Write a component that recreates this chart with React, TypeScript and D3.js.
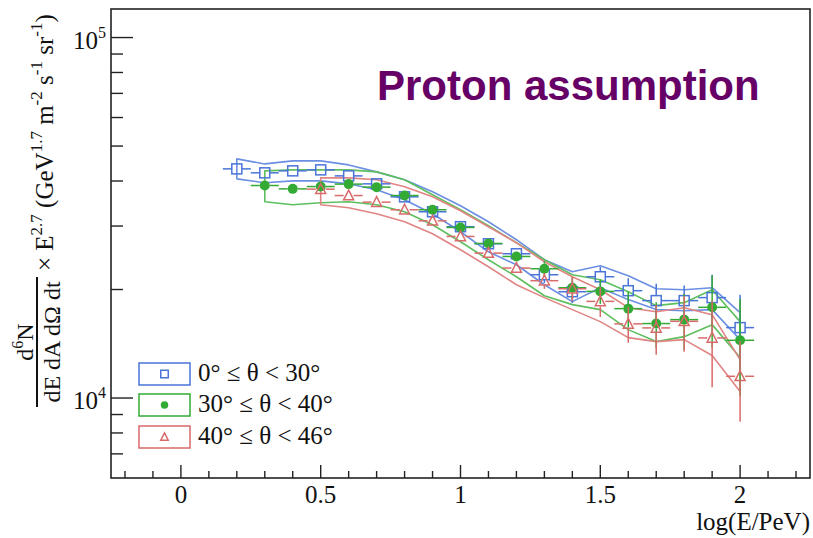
import React, { useEffect, useRef } from "react";
import * as d3 from "d3";

// energy bins, log(E/PeV)
const xBlue = [0.2, 0.3, 0.4, 0.5, 0.6, 0.7, 0.8, 0.9, 1.0, 1.1, 1.2, 1.3, 1.4, 1.5, 1.6, 1.7, 1.8, 1.9, 2.0];
const xGreen = [0.3, 0.4, 0.5, 0.6, 0.7, 0.8, 0.9, 1.0, 1.1, 1.2, 1.3, 1.4, 1.5, 1.6, 1.7, 1.8, 1.9, 2.0];
const xRed = [0.5, 0.6, 0.7, 0.8, 0.9, 1.0, 1.1, 1.2, 1.3, 1.4, 1.5, 1.6, 1.7, 1.8, 1.9, 2.0];

// 0 <= theta < 30
const blueVals = [43220, 42140, 42680, 42950, 41330, 39280, 36150, 32860, 29870, 26790, 25130, 21980, 19720, 21700, 19850, 18630, 18630, 18990, 15680];
const blueErr = [560, 550, 550, 560, 540, 510, 470, 430, 390, 700, 810, 1120, 1380, 1390, 1640, 2130, 1890, 3000, 3650];
const blueUp = [46060, 44610, 45480, 45480, 44330, 42400, 40300, 37330, 34140, 30830, 27490, 24190, 22400, 23280, 21830, 20100, 19970, 20230, 17250];
const blueLow = [40550, 39540, 40040, 40040, 39280, 37810, 35480, 32440, 28920, 25450, 23430, 20620, 18510, 20230, 18750, 17590, 17470, 17590, 14520];

// 30 <= theta < 40
const greenVals = [38860, 38040, 38610, 39210, 38460, 36450, 33290, 29730, 26840, 24700, 22840, 20230, 19760, 17700, 16090, 16500, 17850, 14460];
const greenErr = [500, 490, 490, 500, 490, 470, 430, 380, 680, 790, 1160, 1420, 1520, 2020, 2350, 2920, 4030, 4350];
const greenUp = [42680, 42950, 42950, 42950, 42400, 40300, 36620, 33290, 30050, 26970, 24190, 21980, 21290, 19720, 18040, 18390, 19970, 16290];
const greenLow = [35030, 34360, 34800, 35030, 34360, 32860, 30240, 27140, 24190, 21700, 19220, 18160, 17590, 15480, 14340, 14800, 15980, 12950];

// 40 <= theta < 46
const redVals = [37970, 36450, 34950, 33290, 31010, 28070, 25240, 22940, 21160, 20100, 18540, 16060, 15650, 16320, 14680, 11490];
const redErr = [490, 470, 450, 430, 400, 360, 640, 730, 1080, 1550, 1760, 1830, 2470, 2890, 3960, 2900];
const redUp = [40810, 40810, 40300, 38540, 36150, 33070, 29860, 26970, 23880, 21700, 19970, 17810, 17360, 17810, 17030, 12780];
const redLow = [34360, 33700, 32440, 30830, 28550, 25780, 23130, 20620, 18990, 17590, 16290, 14710, 14340, 14520, 13120, 10420];

const legendLabels = ["0° ≤ θ < 30°", "30° ≤ θ < 40°", "40° ≤ θ < 46°"];
const xTickValues = [0, 0.5, 1, 1.5, 2];
const xTickLabels = ["0", "0.5", "1", "1.5", "2"];
const yMajor = [10000, 100000];
const yMajorExp = ["4", "5"];
const yMinor = [7000, 8000, 9000, 20000, 30000, 40000, 50000, 60000, 70000, 80000, 90000];

const serif = "'Liberation Serif', 'Times New Roman', serif";

export default function App() {
  const ref = useRef<SVGSVGElement>(null);

  useEffect(() => {
    const svg = d3.select(ref.current);
    svg.selectAll("*").remove();

    const width = 813;
    const height = 538;
    const margin = { top: 9, left: 111, bottom: 60, right: 3 };

    const x = d3.scaleLinear().domain([-0.25, 2.25]).range([margin.left, width - margin.right]);
    const y = d3.scaleLog().domain([6000, 120000]).range([height - margin.bottom, margin.top]);

    const series = [
      { xs: xBlue, v: blueVals, e: blueErr, up: blueUp, lo: blueLow, color: "#4a74d8", band: "#6b8fe2", marker: "square" },
      { xs: xGreen, v: greenVals, e: greenErr, up: greenUp, lo: greenLow, color: "#33aa33", band: "#5ebf5e", marker: "circle" },
      { xs: xRed, v: redVals, e: redErr, up: redUp, lo: redLow, color: "#d96a6a", band: "#e08484", marker: "triangle" },
    ];

    // bands
    const line = d3.line<[number, number]>().x(d => x(d[0])).y(d => y(d[1]));
    series.forEach(s => {
      const pts: [number, number][] = s.xs.map((xi, i) => [xi, s.up[i]] as [number, number]);
      const low: [number, number][] = s.xs.map((xi, i) => [xi, s.lo[i]] as [number, number]).reverse();
      svg.append("path")
        .attr("d", line(pts.concat(low)) + "Z")
        .attr("fill", "none")
        .attr("stroke", s.band)
        .attr("stroke-width", 1.6)
        .attr("stroke-linejoin", "round");
    });

    const drawMarker = (g: any, kind: string, cx: number, cy: number, color: string, sz: number) => {
      if (kind === "square") {
        g.append("rect").attr("x", cx - sz / 2).attr("y", cy - sz / 2).attr("width", sz).attr("height", sz)
          .attr("fill", "none").attr("stroke", color).attr("stroke-width", 1.5);
      } else if (kind === "circle") {
        g.append("circle").attr("cx", cx).attr("cy", cy).attr("r", sz / 2).attr("fill", color);
      } else {
        const h = sz * 0.95;
        g.append("path")
          .attr("d", `M${cx},${cy - h * 0.58}L${cx + sz / 2},${cy + h * 0.45}L${cx - sz / 2},${cy + h * 0.45}Z`)
          .attr("fill", "none").attr("stroke", color).attr("stroke-width", 1.5);
      }
    };

    // error bars + markers
    series.forEach(s => {
      const g = svg.append("g");
      const gap = 5;
      s.xs.forEach((xi, i) => {
        const px = x(xi), py = y(s.v[i]);
        const xl = x(xi - 0.05), xr = x(xi + 0.05);
        const yt = y(s.v[i] + s.e[i]), yb = y(s.v[i] - s.e[i]);
        const segs: number[][] = [[xl, py, px - gap, py], [px + gap, py, xr, py]];
        if (py - yt > gap) segs.push([px, yt, px, py - gap]);
        if (yb - py > gap) segs.push([px, py + gap, px, yb]);
        segs.forEach(sg => {
          g.append("line").attr("x1", sg[0]).attr("y1", sg[1]).attr("x2", sg[2]).attr("y2", sg[3])
            .attr("stroke", s.color).attr("stroke-width", 1.5);
        });
        drawMarker(g, s.marker, px, py, s.color, 10);
      });
    });

    // frame
    svg.append("rect")
      .attr("x", margin.left).attr("y", margin.top)
      .attr("width", width - margin.left - margin.right)
      .attr("height", height - margin.top - margin.bottom)
      .attr("fill", "none").attr("stroke", "#222").attr("stroke-width", 1.6);

    const bottom = height - margin.bottom;

    // x ticks
    const xMinor = d3.range(-2, 23).filter(k => k % 5 !== 0).map(k => k / 10);
    xMinor.forEach(t => {
      svg.append("line").attr("x1", x(t)).attr("x2", x(t)).attr("y1", bottom).attr("y2", bottom - 7)
        .attr("stroke", "#222").attr("stroke-width", 1.4);
    });
    xTickValues.forEach((t, i) => {
      svg.append("line").attr("x1", x(t)).attr("x2", x(t)).attr("y1", bottom).attr("y2", bottom - 13)
        .attr("stroke", "#222").attr("stroke-width", 1.4);
      svg.append("text").attr("x", x(t)).attr("y", 503).attr("text-anchor", "middle")
        .attr("font-family", serif).attr("font-size", 25).attr("fill", "#111").text(xTickLabels[i]);
    });

    // y ticks
    yMinor.forEach(t => {
      svg.append("line").attr("x1", margin.left).attr("x2", margin.left + 12).attr("y1", y(t)).attr("y2", y(t))
        .attr("stroke", "#222").attr("stroke-width", 1.4);
    });
    yMajor.forEach((t, i) => {
      svg.append("line").attr("x1", margin.left).attr("x2", margin.left + 22).attr("y1", y(t)).attr("y2", y(t))
        .attr("stroke", "#222").attr("stroke-width", 1.4);
      const tx = svg.append("text").attr("x", 106).attr("y", y(t) + 11).attr("text-anchor", "end")
        .attr("font-family", serif).attr("font-size", 25).attr("fill", "#111");
      tx.append("tspan").text("10");
      tx.append("tspan").attr("dy", -11).attr("font-size", 16).text(yMajorExp[i]);
    });

    // x title
    svg.append("text").attr("x", 810).attr("y", 530).attr("text-anchor", "end")
      .attr("font-family", serif).attr("font-size", 25).attr("fill", "#111").text("log(E/PeV)");

    // y title (rotated)
    const yt = svg.append("g").attr("transform", "rotate(-90)")
      .attr("font-family", serif).attr("fill", "#111");
    const num = yt.append("text").attr("x", -342).attr("y", 33).attr("text-anchor", "middle").attr("font-size", 24);
    num.append("tspan").text("d");
    num.append("tspan").attr("dy", -10).attr("font-size", 16).text("6");
    num.append("tspan").attr("dy", 10).text("N");
    yt.append("line").attr("x1", -407).attr("x2", -277).attr("y1", 37).attr("y2", 37)
      .attr("stroke", "#111").attr("stroke-width", 2);
    yt.append("text").attr("x", -342).attr("y", 60).attr("text-anchor", "middle").attr("font-size", 24)
      .text("dE dA dΩ dt");
    const main = yt.append("text").attr("x", -271).attr("y", 53).attr("font-size", 25);
    const parts: [string, boolean][] = [
      ["× E", false], ["2.7", true], [" (GeV", false], ["1.7", true], [" m", false], ["-2", true],
      [" s", false], ["-1", true], [" sr", false], ["-1", true], [")", false],
    ];
    let raised = false;
    parts.forEach(([txt, sup]) => {
      const ts = main.append("tspan").text(txt);
      if (sup && !raised) { ts.attr("dy", -11).attr("font-size", 17); raised = true; }
      else if (sup) { ts.attr("font-size", 17); }
      else if (raised) { ts.attr("dy", 11); raised = false; }
    });

    // title
    svg.append("text").attr("x", 377).attr("y", 100)
      .attr("font-family", "'Liberation Sans', Arial, sans-serif").attr("font-weight", "bold")
      .attr("font-size", 42).attr("fill", "#660066").text("Proton assumption");

    // legend
    const legY = [374, 405, 437];
    series.forEach((s, i) => {
      svg.append("rect").attr("x", 139).attr("y", legY[i] - 11).attr("width", 51).attr("height", 22)
        .attr("fill", "#fff").attr("stroke", s.color).attr("stroke-width", 1.5);
      drawMarker(svg, s.marker, 164.5, legY[i], s.color, 7.5);
      svg.append("text").attr("x", 198).attr("y", legY[i] + 7).attr("font-family", serif)
        .attr("font-size", 25).attr("fill", "#111").text(legendLabels[i]);
    });
  }, []);

  return (
    <svg ref={ref} width={813} height={538}
      style={{ position: "absolute", left: 0, top: 0, background: "#fff" }} />
  );
}
